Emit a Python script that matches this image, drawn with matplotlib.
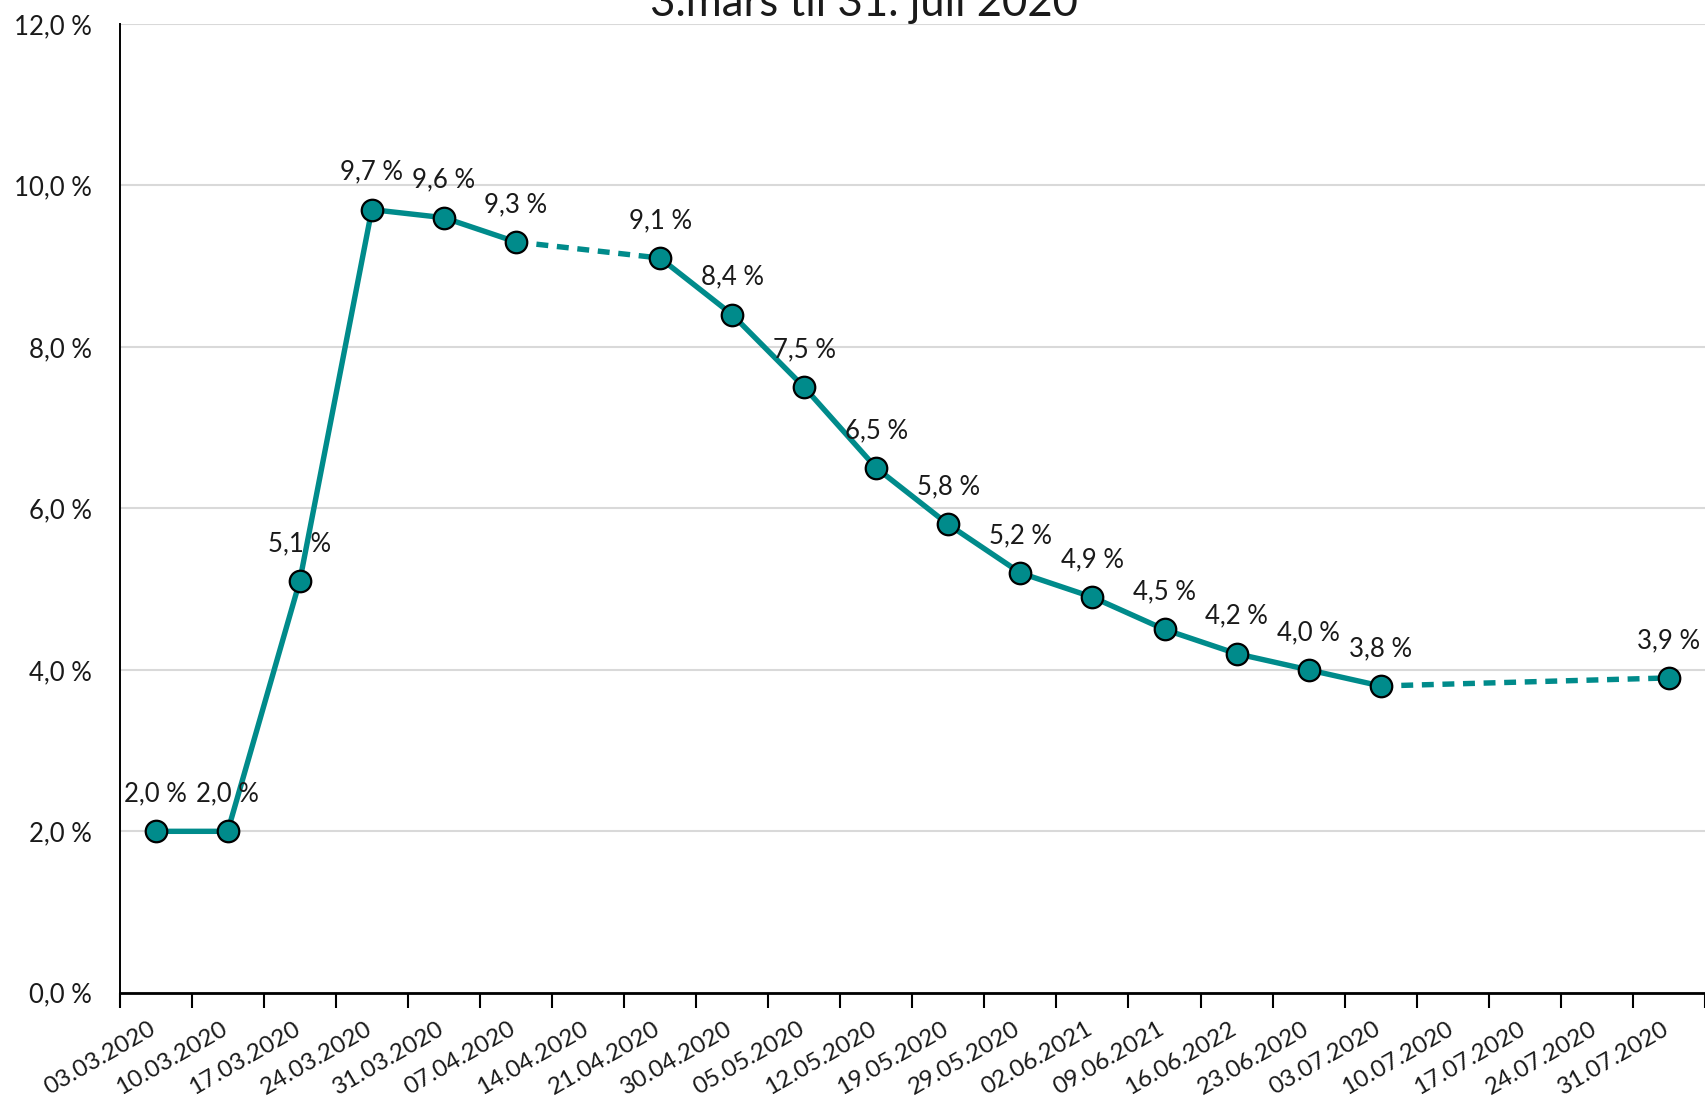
import numpy as np
import matplotlib
matplotlib.use("Agg")
import matplotlib.pyplot as plt
import matplotlib.transforms as mtransforms

plt.rcParams['font.family'] = ['Lato', 'DejaVu Sans']

dates = ['03.03.2020', '10.03.2020', '17.03.2020', '24.03.2020', '31.03.2020',
         '07.04.2020', '14.04.2020', '21.04.2020', '30.04.2020', '05.05.2020',
         '12.05.2020', '19.05.2020', '29.05.2020', '02.06.2021', '09.06.2021',
         '16.06.2022', '23.06.2020', '03.07.2020', '10.07.2020', '17.07.2020',
         '24.07.2020', '31.07.2020']
rate = [2.0, 2.0, 5.1, 9.7, 9.6, 9.3, None, 9.1, 8.4, 7.5, 6.5, 5.8, 5.2,
        4.9, 4.5, 4.2, 4.0, 3.8, None, None, None, 3.9]
title = '3.mars til 31. juli 2020'

teal = '#008B8B'
txt = '#1a1a1a'
fs = 18.5
W, H = 1705, 1103
fig = plt.figure(figsize=(W / 100, H / 100), dpi=100)
left = 119.6 / W
bottom = (H - 992.8) / H
top = (H - 23.9) / H
ax = fig.add_axes([left, bottom, 1 - left, top - bottom])

x = np.arange(len(dates))
y = np.array([np.nan if v is None else v for v in rate])
ok = ~np.isnan(y)

# dashed bridges over missing weeks
xv, yv = x[ok], y[ok]
for i in range(len(xv) - 1):
    if xv[i + 1] - xv[i] > 1:
        ax.plot(xv[i:i + 2], yv[i:i + 2], color=teal, lw=3.9, ls=(0, (2.2, 1.6)),
                solid_capstyle='butt', zorder=2)

ax.plot(x, y, color=teal, lw=3.9, zorder=3)
ax.plot(xv, yv, ls='none', marker='o', ms=15.5, mfc=teal, mec='black',
        mew=1.6, zorder=4, clip_on=False)

for xi, yi in zip(xv, yv):
    ax.annotate(f"{yi:.1f} %".replace('.', ','), (xi, yi), xytext=(0, 27),
                textcoords='offset points', ha='center', va='center',
                fontsize=fs, color=txt, zorder=5)

cat_w = 72.3
ax.set_xlim(-0.5, -0.5 + (W - 119.6) / cat_w)
ax.set_ylim(0, 12)

ax.set_yticks(np.arange(0, 13, 2))
ax.set_yticklabels([f"{v:.1f} %".replace('.', ',') for v in np.arange(0, 13, 2)])
ax.tick_params(axis='y', length=0, pad=20, labelsize=fs, labelcolor=txt)
ax.yaxis.grid(True, color='#d9d9d9', lw=1.5, zorder=0)
ax.set_axisbelow(True)

ax.set_xticks(x)
ax.set_xticklabels(dates, rotation=30, ha='right', va='top',
                   rotation_mode='anchor')
ax.set_xticks(np.arange(-0.5, len(dates)), minor=True)
ax.tick_params(axis='x', which='major', length=0, pad=18, labelsize=17.5,
               labelcolor=txt)
ax.tick_params(axis='x', which='minor', length=11, width=1.5, direction='out',
               color='black')
shift = mtransforms.ScaledTranslation(-7 / 100, 0, fig.dpi_scale_trans)
for lab in ax.get_xticklabels():
    lab.set_transform(lab.get_transform() + shift)

for side in ['top', 'right']:
    ax.spines[side].set_visible(False)
ax.spines['left'].set_linewidth(1.4)
ax.spines['bottom'].set_linewidth(2.0)

fig.text(864 / W, (H - 16) / H, title, ha='center', va='baseline',
         fontsize=31.5, color=txt)

fig.savefig('out.png', dpi=100, facecolor='white')
